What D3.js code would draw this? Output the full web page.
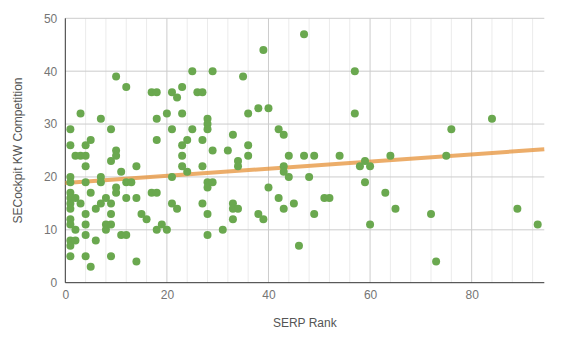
<!DOCTYPE html>
<html>
<head>
<meta charset="utf-8">
<script src="https://cdn.jsdelivr.net/npm/d3@7"></script>
<style>
  html, body { margin: 0; padding: 0; background: #fff; }
  svg { display: block; font-family: Arial, "Liberation Sans", sans-serif; }
</style>
</head>
<body>
<svg id="chart" width="566" height="337"></svg>
<script>
// SERP rank (x) and keyword competition score (y) for each keyword
const serpRank = [
  1,1,1,1,1,1,1,1,1,1,1,1,1,
  2,2,2,2,
  3,3,3,
  4,4,4,4,4,4,4,4,
  5,5,5,
  6,6,
  7,7,7,7,
  8,8,8,
  9,9,9,9,9,9,
  10,10,10,10,10,
  11,11,
  12,12,12,12,
  13,
  14,14,14,
  15,16,
  17,17,
  18,18,18,18,18,
  19,
  20,20,
  21,21,21,21,
  22,22,
  23,23,23,23,23,
  24,24,
  25,25,
  26,
  27,27,27,27,
  28,28,28,28,28,28,28,
  29,29,29,
  31,32,
  33,33,33,33,
  34,34,34,
  35,
  36,36,36,
  38,38,
  39,39,
  40,40,
  42,42,
  43,43,43,43,
  44,44,
  45,46,
  47,47,
  48,
  49,49,
  51,52,54,
  57,57,
  58,
  59,59,
  60,60,
  63,64,65,72,73,75,76,84,89,93
];
const kwCompetition = [
  29,26,20,19,17,16,15,14,12,11,8,7,5,
  24,16,10,8,
  32,24,15,
  26,24,22,19,13,11,9,5,
  27,17,3,
  14,8,
  31,20,19,15,
  16,11,10,
  29,23,15,13,11,5,
  39,25,24,18,17,
  21,9,
  37,19,16,9,
  19,
  22,16,4,
  13,12,
  36,17,
  36,31,27,17,10,
  11,
  32,10,
  36,29,20,15,
  35,14,
  37,32,26,24,22,
  27,21,
  40,29,
  36,
  36,27,22,15,
  31,30,29,19,18,13,9,
  40,25,19,
  10,25,
  28,15,14,12,
  23,22,14,
  39,
  32,26,24,
  33,13,
  44,12,
  33,18,
  29,16,
  28,22,21,14,
  24,20,
  15,7,
  47,24,
  20,
  24,13,
  16,16,24,
  40,32,
  22,
  23,19,
  22,11,
  17,24,14,13,4,24,29,31,14,11
];
const xTicks = [0, 20, 40, 60, 80];
const yTicks = [0, 10, 20, 30, 40, 50];
const xTitle = "SERP Rank";
const yTitle = "SECockpit KW Competition";

const points = serpRank.map((x, i) => ({ x, y: kwCompetition[i] }));

// Least-squares trend line through the points
const n = points.length;
const mx = d3.mean(points, d => d.x);
const my = d3.mean(points, d => d.y);
const slope = d3.sum(points, d => (d.x - mx) * (d.y - my)) / d3.sum(points, d => (d.x - mx) ** 2);
const intercept = my - slope * mx;

const svg = d3.select("#chart");
const margin = { left: 65.3, right: 566 - 544.3, top: 18.3, bottom: 337 - 282.7 };
const W = 566, H = 337;

const xMax = 94.3;
const x = d3.scaleLinear().domain([0, xMax]).range([margin.left, W - margin.right]);
const y = d3.scaleLinear().domain([0, 50]).range([H - margin.bottom, margin.top]);

const g = svg.append("g");

// Minor vertical gridlines every 4 units
const minorX = d3.range(4, xMax, 4).filter(v => v % 20 !== 0);
g.append("g").selectAll("line").data(minorX).join("line")
  .attr("x1", d => x(d)).attr("x2", d => x(d))
  .attr("y1", y(0)).attr("y2", y(50))
  .attr("stroke", "#ebebeb").attr("stroke-width", 1);

// Major gridlines
g.append("g").selectAll("line").data(xTicks.filter(v => v > 0)).join("line")
  .attr("x1", d => x(d)).attr("x2", d => x(d))
  .attr("y1", y(0)).attr("y2", y(50))
  .attr("stroke", "#cccccc").attr("stroke-width", 1);
g.append("g").selectAll("line").data(yTicks.filter(v => v > 0)).join("line")
  .attr("x1", x(0)).attr("x2", x(xMax))
  .attr("y1", d => y(d)).attr("y2", d => y(d))
  .attr("stroke", "#cccccc").attr("stroke-width", 1);

// Axes with labels only; baselines drawn separately
const xAxis = d3.axisBottom(x).tickValues(xTicks).tickSize(0).tickPadding(8);
const yAxis = d3.axisLeft(y).tickValues(yTicks).tickSize(0).tickPadding(8);
const gx = g.append("g").attr("transform", `translate(0,${y(0)})`).call(xAxis);
const gy = g.append("g").attr("transform", `translate(${x(0)},0)`).call(yAxis);
[gx, gy].forEach(a => {
  a.select(".domain").remove();
  a.selectAll("text").attr("fill", "#757575").attr("font-size", 12)
    .attr("font-family", "Arial, 'Liberation Sans', sans-serif");
});

// Baselines
g.append("line").attr("x1", x(0)).attr("x2", x(xMax)).attr("y1", y(0)).attr("y2", y(0))
  .attr("stroke", "#333").attr("stroke-width", 1);
g.append("line").attr("x1", x(0)).attr("x2", x(0)).attr("y1", y(0)).attr("y2", y(50))
  .attr("stroke", "#333").attr("stroke-width", 1);

// Trend line
g.append("line")
  .attr("x1", x(0)).attr("y1", y(intercept))
  .attr("x2", x(xMax)).attr("y2", y(intercept + slope * xMax))
  .attr("stroke", "#e69138").attr("stroke-opacity", 0.75)
  .attr("stroke-width", 4).attr("stroke-linecap", "butt");

// Points
g.append("g").selectAll("circle").data(points).join("circle")
  .attr("cx", d => x(d.x)).attr("cy", d => y(d.y)).attr("r", 4)
  .attr("fill", "#6aa84f");

// Axis titles
svg.append("text").attr("x", (x(0) + x(xMax)) / 2).attr("y", 327)
  .attr("text-anchor", "middle").attr("font-size", 12).attr("fill", "#555")
  .text(xTitle);
svg.append("text")
  .attr("transform", `translate(21.5,${(y(0) + y(50)) / 2}) rotate(-90)`)
  .attr("text-anchor", "middle").attr("font-size", 12).attr("fill", "#555")
  .text(yTitle);
</script>
</body>
</html>
